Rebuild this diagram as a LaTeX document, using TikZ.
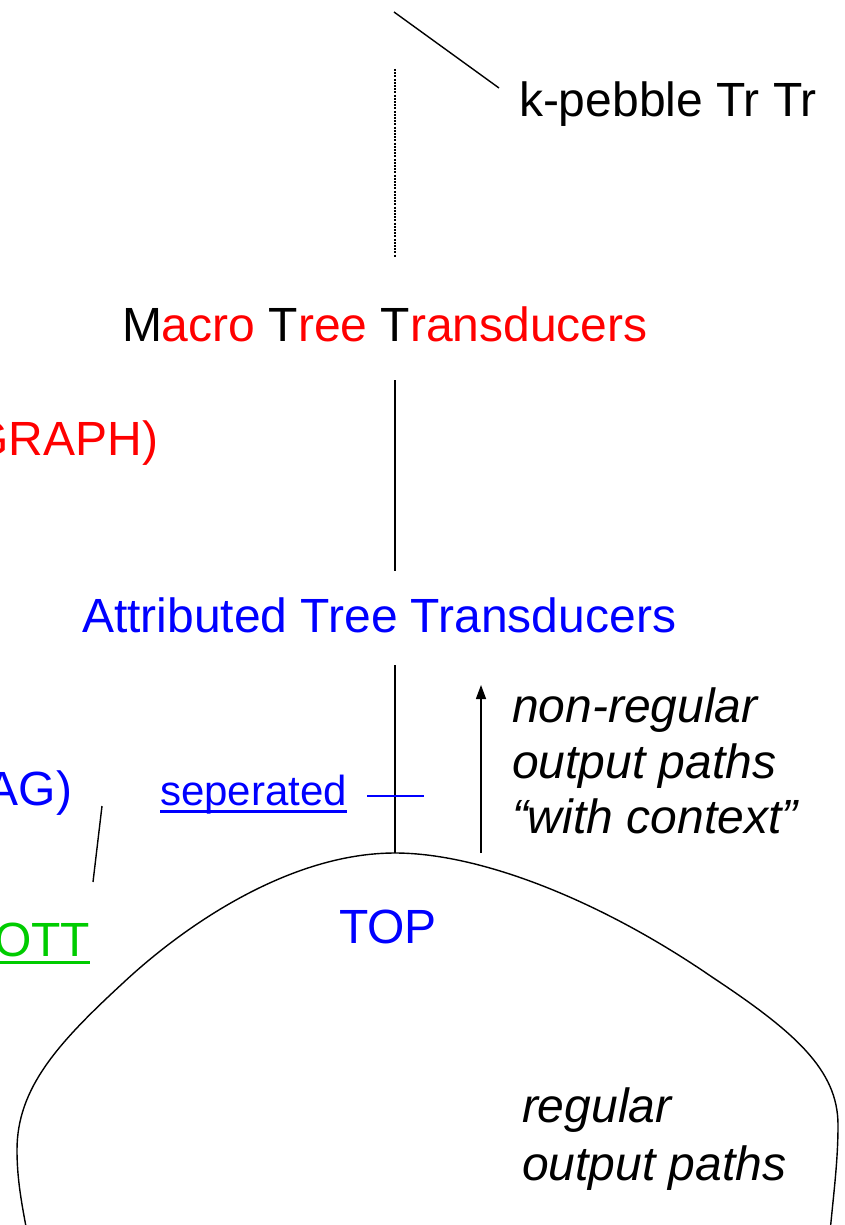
\documentclass[tikz,border=0pt]{standalone}
\usepackage{fontspec}
\setmainfont{Liberation Sans}
\usetikzlibrary{arrows.meta}
\definecolor{ttred}{RGB}{255,0,0}
\definecolor{ttblue}{RGB}{0,0,255}
\definecolor{ttgreen}{RGB}{0,204,0}

\begin{document}
\begin{tikzpicture}[x=1pt,y=-1pt,
  lbl/.style={inner sep=0pt, outer sep=0pt, font=\fontsize{48}{56}\selectfont},
  small/.style={inner sep=0pt, outer sep=0pt, font=\fontsize{42}{50}\selectfont},
  note/.style={lbl, font=\fontsize{48}{56}\selectfont\itshape},
  edge/.style={line width=1.4pt, line cap=butt},
  dotline/.style={line width=2pt, dash pattern=on 2pt off 1.2pt},
  uline/.style={line width=3.5pt},
  arrowtip/.style={-{Triangle[length=14pt,width=10pt]}}]
  \useasboundingbox (0,0) rectangle (845,1225);

  % labels
  \node[lbl, anchor=base west] (peb) at (519,117) {k-pebble Tr Tr};
  \node[lbl, anchor=base west] (mtt) at (122,341)
    {M\textcolor{ttred}{acro} T\textcolor{ttred}{ree} T\textcolor{ttred}{ransducers}};
  \node[lbl, anchor=base east, text=ttred] (graph) at (158,455) {GRAPH)};
  \node[lbl, anchor=base west, text=ttblue] (att) at (82,632) {Attributed Tree Transducers};
  \node[lbl, anchor=base east, text=ttblue] (ag) at (72,805) {AG)};
  \node[small, anchor=base west, text=ttblue] (sep) at (160,805) {seperated};
  \node[lbl, anchor=base east, text=ttgreen] (ott) at (90,956) {OTT};
  \node[lbl, anchor=base west, text=ttblue] (top) at (339,943) {TOP};
  \node[note, anchor=base west] (nr1) at (512,722) {non-regular};
  \node[note, anchor=base west] (nr2) at (512,778) {output paths};
  \node[note, anchor=base west] (nr3) at (512,833) {“with context”};
  \node[note, anchor=base west] (rg1) at (522,1122) {regular};
  \node[note, anchor=base west] (rg2) at (522,1180) {output paths};

  % underlines
  \draw[uline, ttblue] ([yshift=-6.5pt]sep.base west) -- ([yshift=-6.5pt]sep.base east);
  \draw[uline, ttgreen] ([yshift=-6.5pt]ott.base west) -- ([yshift=-6.5pt]ott.base east);

  % connector end points
  \coordinate (pebA) at (394,12);
  \coordinate (pebB) at (499,88);
  \coordinate (dotA) at (395,69);
  \coordinate (dotB) at (395,257);
  \coordinate (mttB) at (395,380);
  \coordinate (attT) at (395,571);
  \coordinate (attB) at (395,665);
  \coordinate (apex) at (395,853);
  \coordinate (sepA) at (367,796);
  \coordinate (sepB) at (424,796);
  \coordinate (agA)  at (102,806);
  \coordinate (agB)  at (93,882);
  \coordinate (arrA) at (481,853);
  \coordinate (arrB) at (481,685);

  \draw[edge] (pebA) -- (pebB);
  \draw[dotline] (dotA) -- (dotB);
  \draw[edge] (mttB) -- (attT);
  \draw[edge] (attB) -- (apex);
  \draw[edge, ttblue] (sepA) -- (sepB);
  \draw[edge] (agA) -- (agB);
  \draw[edge, arrowtip] (arrA) -- (arrB);

  % bell-shaped outline of the TOP region
  \draw[edge] (27,1232)
    .. controls (22,1205) and (17,1180) .. (17,1150)
    .. controls (17,1088) and (58,1043) .. (123,983)
    .. controls (185,925) and (290,853) .. (apex)
    .. controls (480,853) and (600,900) .. (712,977)
    .. controls (795,1032) and (838,1070) .. (838,1125)
    .. controls (838,1160) and (834,1190) .. (830,1232);
\end{tikzpicture}
\end{document}
